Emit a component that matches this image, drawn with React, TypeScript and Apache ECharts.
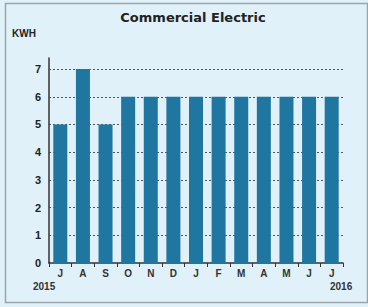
import React, { useEffect, useRef } from "react";
import * as echarts from "echarts";

const categories = ["J", "A", "S", "O", "N", "D", "J", "F", "M", "A", "M", "J", "J"];
const kwhValues = [5, 7, 5, 6, 6, 6, 6, 6, 6, 6, 6, 6, 6];
const gridValues = [1, 2, 3, 4, 5, 6, 7];
const startYear = "2015";
const endYear = "2016";

export default function App() {
  const ref = useRef<HTMLDivElement>(null);
  useEffect(() => {
    document.body.style.margin = "0";
    const chart = echarts.init(ref.current!, null, { renderer: "svg" });
    const font = "'Liberation Sans', Arial, sans-serif";
    chart.setOption({
      animation: false,
      backgroundColor: "#e0f1f9",
      title: {
        text: "Commercial Electric",
        left: 188,
        top: 6,
        textAlign: "center",
        textStyle: { fontFamily: "'DejaVu Sans', sans-serif", fontSize: 13, fontWeight: "bold", color: "#222" },
      },
      graphic: [
        { type: "rect", left: 3, top: 1, shape: { width: 362, height: 299 }, style: { fill: "none", stroke: "#9aa4aa", lineWidth: 1.5 } },
        { type: "text", left: 12, top: 28, style: { text: "KWH", fontFamily: font, fontSize: 10, fontWeight: "bold", fill: "#222" } },
        { type: "text", left: 33, top: 281, style: { text: startYear, fontFamily: font, fontSize: 10, fontWeight: "bold", fill: "#333" } },
        { type: "text", left: 330, top: 281, style: { text: endYear, fontFamily: font, fontSize: 10, fontWeight: "bold", fill: "#333" } },
      ],
      grid: { left: 49, right: 25, top: 58, bottom: 44 },
      xAxis: {
        type: "category",
        data: categories,
        axisLine: { lineStyle: { color: "#333", width: 1.5 } },
        axisTick: { show: true, length: 4, lineStyle: { color: "#333" } },
        axisLabel: { fontFamily: font, fontSize: 10, fontWeight: "bold", color: "#333", margin: 5 },
      },
      yAxis: {
        type: "value",
        min: 0,
        max: 7.4,
        interval: 1,
        axisLine: { show: true, lineStyle: { color: "#333", width: 1.5 } },
        axisTick: { show: false },
        splitLine: { show: false },
        axisLabel: {
          fontFamily: font,
          fontSize: 11,
          fontWeight: "bold",
          color: "#222",
          margin: 8,
          formatter: (v: number) => (Number.isInteger(v) ? String(v) : ""),
        },
      },
      series: [
        {
          type: "line",
          data: [],
          z: 0,
          markLine: {
            silent: true,
            symbol: "none",
            z: 0,
            label: { show: false },
            lineStyle: { type: [2, 2], color: "#555", width: 1 },
            data: gridValues.map((v) => ({ yAxis: v })),
          },
        },
        {
          type: "bar",
          data: kwhValues,
          barWidth: 14,
          itemStyle: { color: "#1f76a0" },
          z: 5,
        },
      ],
    });
    return () => chart.dispose();
  }, []);
  return <div ref={ref} style={{ width: 368, height: 307 }} />;
}
